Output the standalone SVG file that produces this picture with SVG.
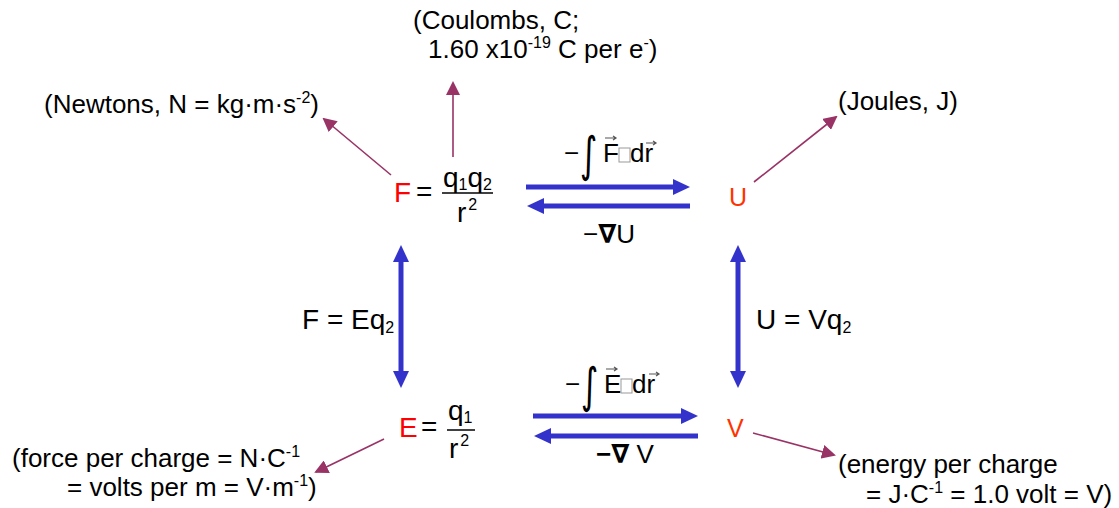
<svg xmlns="http://www.w3.org/2000/svg" width="1119" height="508" viewBox="0 0 1119 508">
<style>
text{font-family:"Liberation Sans",Arial,"DejaVu Sans",sans-serif;fill:#000}
.u{font-size:26px}
.o{font-size:25px}
.m{font-size:28px}
.l{font-size:26px}
.red{fill:#FF0000}
.org{fill:#FF3300}
.sub{font-size:16px}
.sup{font-size:16px}
.int{font-size:48px;font-family:"DejaVu Sans",sans-serif}
.blue{stroke:#3333CC;stroke-width:5;fill:none}
.pur{stroke:#993366;stroke-width:1.6;fill:none}
.vec{stroke:#555;stroke-width:1.2;fill:none}
</style>
<defs>
<marker id="bh" viewBox="0 0 17 16" markerWidth="17" markerHeight="16" refX="9" refY="8" markerUnits="userSpaceOnUse" orient="auto-start-reverse">
<path d="M0,0 L17,8 L0,16 z" fill="#3333CC"/>
</marker>
<marker id="ph" viewBox="0 0 14 14" markerWidth="14" markerHeight="14" refX="12" refY="7" markerUnits="userSpaceOnUse" orient="auto">
<path d="M0,0 L14,7 L0,14 z" fill="#993366"/>
</marker>
</defs>

<g id="connectors">
<line class="blue" x1="526" y1="187" x2="682" y2="187" marker-end="url(#bh)"/>
<line class="blue" x1="690" y1="206" x2="535" y2="206" marker-end="url(#bh)"/>
<line class="blue" x1="533" y1="416" x2="690" y2="416" marker-end="url(#bh)"/>
<line class="blue" x1="698" y1="436" x2="542" y2="436" marker-end="url(#bh)"/>
<line class="blue" x1="401" y1="253" x2="401" y2="380" marker-start="url(#bh)" marker-end="url(#bh)"/>
<line class="blue" x1="738" y1="253" x2="738" y2="380" marker-start="url(#bh)" marker-end="url(#bh)"/>
<line class="pur" x1="391" y1="175" x2="324" y2="119" marker-end="url(#ph)"/>
<line class="pur" x1="453" y1="157" x2="453" y2="83" marker-end="url(#ph)"/>
<line class="pur" x1="754" y1="182" x2="836" y2="117" marker-end="url(#ph)"/>
<line class="pur" x1="753" y1="433" x2="834" y2="455" marker-end="url(#ph)"/>
<line class="pur" x1="384" y1="439" x2="316" y2="472" marker-end="url(#ph)"/>
</g>

<g id="node-F">
<text class="m red" x="394" y="202">F</text>
<text class="m" x="416" y="201">=</text>
<text class="m" x="443" y="187">q<tspan class="sub" dy="3">1</tspan><tspan dy="-3">q</tspan><tspan class="sub" dy="3">2</tspan></text>
<line x1="442" y1="193" x2="493" y2="193" stroke="#000" stroke-width="1.5"/>
<text class="m" x="457" y="222">r<tspan class="sub" dy="-12" dx="2">2</tspan></text>
</g>

<g id="node-U">
<text class="o org" x="729" y="206">U</text>
</g>

<g id="node-E">
<text class="m red" x="399" y="437">E</text>
<text class="m" x="421" y="436">=</text>
<text class="m" x="448" y="420">q<tspan class="sub" dy="3">1</tspan></text>
<line x1="447" y1="430" x2="475" y2="430" stroke="#000" stroke-width="1.5"/>
<text class="m" x="449" y="458">r<tspan class="sub" dy="-12" dx="2">2</tspan></text>
</g>

<g id="node-V">
<text class="o org" x="727" y="437">V</text>
</g>

<g id="label-newtons">
<text class="u" x="44" y="113">(Newtons, N = kg·m·s<tspan class="sup" dy="-10">-2</tspan><tspan dy="10">)</tspan></text>
</g>
<g id="label-coulombs">
<text class="u" x="413" y="29">(Coulombs, C;</text>
<text class="u" x="428" y="58">1.60 x10<tspan class="sup" dy="-10">-19</tspan><tspan dy="10"> C per e</tspan><tspan class="sup" dy="-10">-</tspan><tspan dy="10">)</tspan></text>
</g>
<g id="label-joules">
<text class="u" x="838" y="110">(Joules, J)</text>
</g>
<g id="label-force-per-charge">
<text class="u" x="12" y="467">(force per charge = N·C<tspan class="sup" dy="-10">-1</tspan></text>
<text class="u" x="67" y="496">= volts per m = V·m<tspan class="sup" dy="-10">-1</tspan><tspan dy="10">)</tspan></text>
</g>
<g id="label-energy-per-charge">
<text class="u" x="838" y="473">(energy per charge</text>
<text class="u" x="866" y="503">= J·C<tspan class="sup" dy="-10">-1</tspan><tspan dy="10"> = 1.0 volt = V)</tspan></text>
</g>

<g id="label-integral-F">
<text class="l" x="564" y="162">−</text>
<text class="int" transform="translate(580,171) scale(0.7,1)" x="0" y="0">∫</text>
<text class="l" x="603" y="162">F</text>
<rect x="619" y="148" width="11" height="14" fill="none" stroke="#999" stroke-width="1"/>
<text class="l" x="630" y="162">dr</text>
<path class="vec" d="M605,138 H616 M613,136 L616,138 L613,140"/>
<path class="vec" d="M646,143 H656 M653,141 L656,143 L653,145"/>
</g>
<g id="label-gradU">
<text class="l" x="583" y="243">−<tspan font-weight="bold" style="font-family:'DejaVu Sans',sans-serif">∇</tspan>U</text>
</g>
<g id="label-integral-E">
<text class="l" x="565" y="393">−</text>
<text class="int" transform="translate(581,402) scale(0.7,1)" x="0" y="0">∫</text>
<text class="l" x="604" y="393">E</text>
<rect x="621" y="379" width="11" height="14" fill="none" stroke="#999" stroke-width="1"/>
<text class="l" x="632" y="393">dr</text>
<path class="vec" d="M606,369 H617 M614,367 L617,369 L614,371"/>
<path class="vec" d="M649,374 H659 M656,372 L659,374 L656,376"/>
</g>
<g id="label-gradV">
<text class="l" x="596" y="463" font-weight="bold">−<tspan style="font-family:'DejaVu Sans',sans-serif">∇</tspan><tspan font-weight="normal"> V</tspan></text>
</g>
<g id="label-F-Eq">
<text class="m" x="302" y="329">F = Eq<tspan class="sub" dy="4">2</tspan></text>
</g>
<g id="label-U-Vq">
<text class="m" x="756" y="329">U = Vq<tspan class="sub" dy="4">2</tspan></text>
</g>
</svg>
